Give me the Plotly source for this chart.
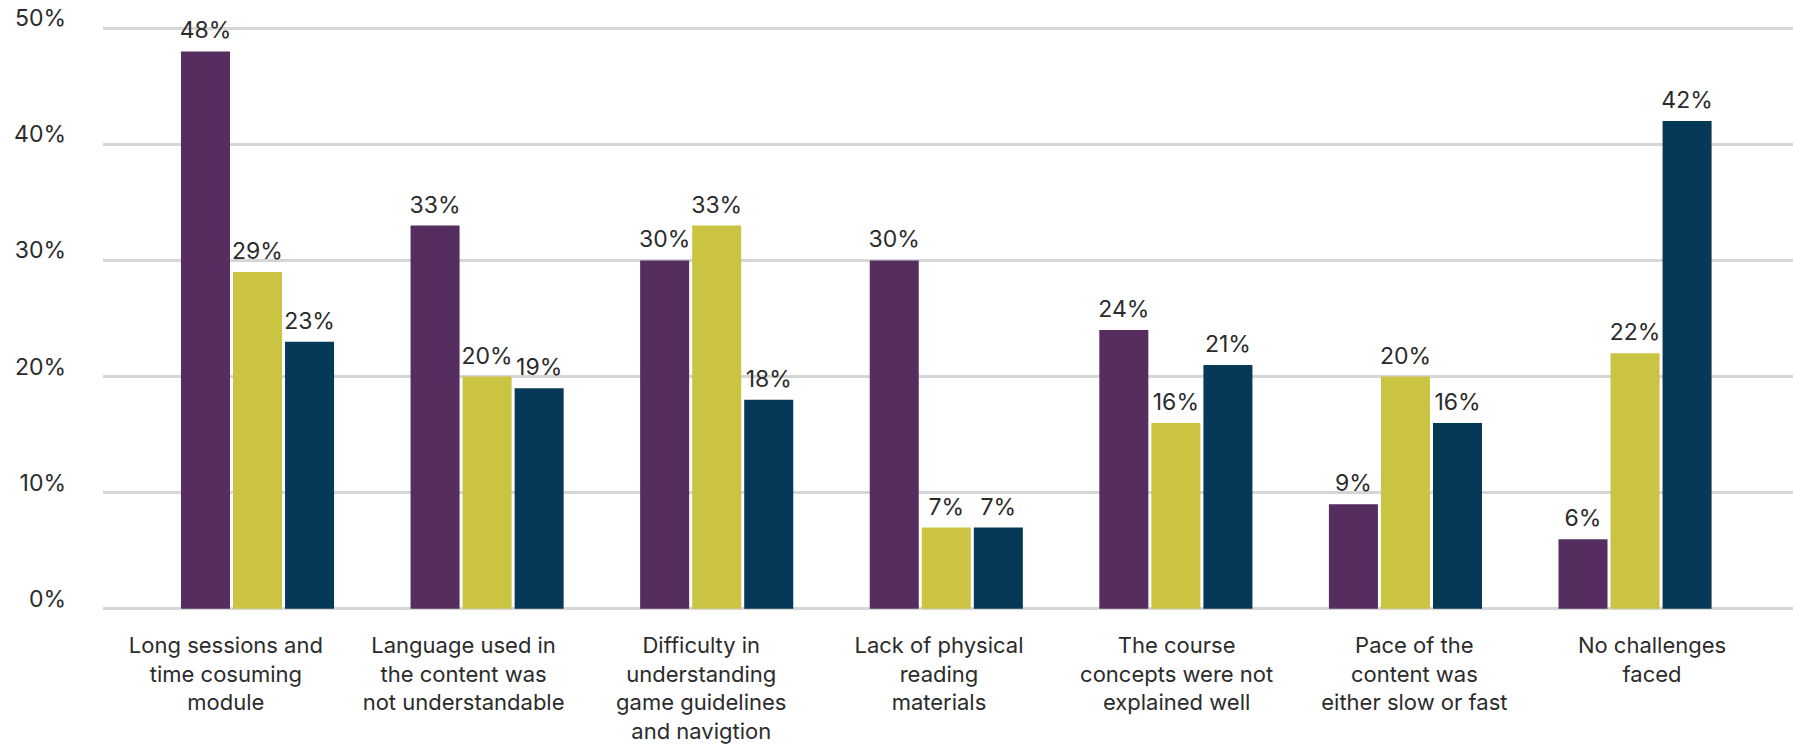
import plotly.graph_objects as go

# Challenge categories (x-axis), with manual line breaks
categories = [
    "Long sessions and<br>time cosuming<br>module",
    "Language used in<br>the content was<br>not understandable",
    "Difficulty in<br>understanding<br>game guidelines<br>and navigtion",
    "Lack of physical<br>reading<br>materials",
    "The course<br>concepts were not<br>explained well",
    "Pace of the<br>content was<br>either slow or fast",
    "No challenges<br>faced",
]

# Share of respondents (%) per group
group_a = [48, 33, 30, 30, 24, 9, 6]
group_b = [29, 20, 33, 7, 16, 20, 22]
group_c = [23, 19, 18, 7, 21, 16, 42]

y_ticks = [0, 10, 20, 30, 40, 50]

series = [
    ("Group A", group_a, "#552E5F"),
    ("Group B", group_b, "#CBC443"),
    ("Group C", group_c, "#063957"),
]

FONT = "Inter"
TEXT_COLOR = "#2B2B2B"
GRID = "#D6D6D6"
FS = 23
FS_CAT = 22

idx = list(range(len(categories)))

fig = go.Figure()
for name, vals, color in series:
    fig.add_trace(go.Bar(
        name=name,
        x=idx,
        y=vals,
        offsetgroup=name,
        marker=dict(color=color, line=dict(width=0)),
        hoverinfo="skip",
    ))

# Value labels: text-only scatter traces grouped like the bars,
# with an invisible marker to lift the text a little above each bar
for name, vals, color in series:
    fig.add_trace(go.Scatter(
        x=idx,
        y=vals,
        offsetgroup=name,
        mode="markers+text",
        marker=dict(size=10, opacity=0),
        text=[f"{v}%" for v in vals],
        textposition="top center",
        textfont=dict(family=FONT, size=FS, color=TEXT_COLOR),
        cliponaxis=False,
        hoverinfo="skip",
        showlegend=False,
    ))

# Invisible anchor trace so the category-label axis is rendered
fig.add_trace(go.Scatter(
    x=idx,
    y=[0] * len(idx),
    xaxis="x2",
    mode="markers",
    marker=dict(opacity=0),
    hoverinfo="skip",
    showlegend=False,
))

fig.update_layout(
    width=1793,
    height=744,
    margin=dict(l=103, r=0, t=27, b=134, autoexpand=False),
    paper_bgcolor="white",
    plot_bgcolor="white",
    barmode="group",
    scattermode="group",
    bargap=0.32,
    scattergap=0.32,
    bargroupgap=0.058,
    showlegend=False,
    font=dict(family=FONT, color=TEXT_COLOR),
    xaxis=dict(
        type="linear",
        range=[-0.673, 6.688],
        showticklabels=False,
        showgrid=False,
        zeroline=False,
        showline=False,
        automargin=False,
        fixedrange=True,
    ),
    # Category labels on an overlaid axis sharing the same plot area
    xaxis2=dict(
        type="linear",
        overlaying="x",
        side="bottom",
        anchor="y",
        range=[-0.517, 6.593],
        tickmode="array",
        tickvals=idx,
        ticktext=categories,
        tickfont=dict(family=FONT, size=FS_CAT, color=TEXT_COLOR),
        ticks="",
        ticklabelstandoff=20,
        showgrid=False,
        zeroline=False,
        showline=False,
        automargin=False,
        fixedrange=True,
    ),
    yaxis=dict(
        range=[-0.1, 50.1],
        tickmode="array",
        tickvals=y_ticks,
        ticktext=[f"{t}%" for t in y_ticks],
        tickfont=dict(family=FONT, size=FS, color=TEXT_COLOR),
        ticks="",
        ticklabelstandoff=36,
        ticklabelshift=-10,
        showgrid=True,
        gridcolor=GRID,
        gridwidth=2.5,
        zeroline=False,
        showline=False,
        automargin=False,
        fixedrange=True,
    ),
)

fig.write_html("out.html")
